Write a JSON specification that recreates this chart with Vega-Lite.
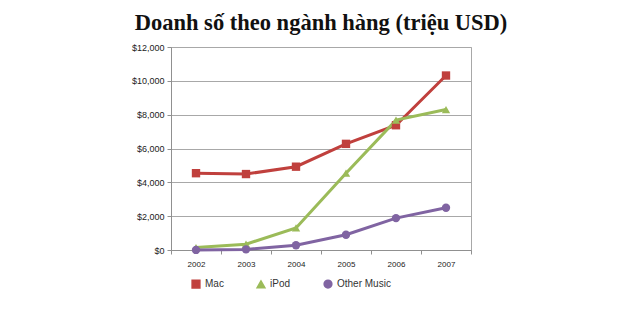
{
  "$schema": "https://vega.github.io/schema/vega-lite/v6.json",
  "autosize": "none",
  "width": 300,
  "height": 203,
  "padding": {"left": 171, "top": 47, "right": 169, "bottom": 70},
  "background": "white",
  "title": {
    "text": "Doanh số theo ngành hàng (triệu USD)",
    "font": "Liberation Serif",
    "fontSize": 22.5,
    "fontWeight": "bold",
    "color": "#111111",
    "anchor": "middle",
    "baseline": "alphabetic",
    "offset": 17,
    "dy": 26
  },
  "data": {
    "values": [
      {"year": "2002", "series": "Mac", "value": 4540},
      {"year": "2003", "series": "Mac", "value": 4490},
      {"year": "2004", "series": "Mac", "value": 4925},
      {"year": "2005", "series": "Mac", "value": 6275},
      {"year": "2006", "series": "Mac", "value": 7375},
      {"year": "2007", "series": "Mac", "value": 10314},
      {"year": "2002", "series": "iPod", "value": 143},
      {"year": "2003", "series": "iPod", "value": 345},
      {"year": "2004", "series": "iPod", "value": 1306},
      {"year": "2005", "series": "iPod", "value": 4540},
      {"year": "2006", "series": "iPod", "value": 7676},
      {"year": "2007", "series": "iPod", "value": 8305},
      {"year": "2002", "series": "Other Music", "value": 4},
      {"year": "2003", "series": "Other Music", "value": 36},
      {"year": "2004", "series": "Other Music", "value": 278},
      {"year": "2005", "series": "Other Music", "value": 899},
      {"year": "2006", "series": "Other Music", "value": 1885},
      {"year": "2007", "series": "Other Music", "value": 2496}
    ]
  },
  "config": {
    "view": {"stroke": "#a8a8a8", "strokeWidth": 1},
    "axis": {"labelFont": "Liberation Sans", "labelColor": "#222222", "domainColor": "#909090", "tickColor": "#909090"}
  },
  "encoding": {
    "x": {
      "field": "year", "type": "ordinal", "bandPosition": 0.5,
      "scale": {"type": "band", "paddingInner": 0, "paddingOuter": 0},
      "axis": {"title": null, "labelAngle": 0, "labelFontSize": 8, "tickBand": "extent", "tickSize": 4, "labelPadding": 6, "grid": false}
    },
    "y": {
      "field": "value", "type": "quantitative",
      "scale": {"domain": [0, 12000]},
      "axis": {"title": null, "format": "$,.0f", "values": [0,2000,4000,6000,8000,10000,12000], "labelOverlap": false, "labelFontSize": 9, "tickSize": 4, "gridColor": "#a8a8a8", "gridWidth": 1, "labelPadding": 3}
    },
    "color": {
      "field": "series", "type": "nominal",
      "scale": {"domain": ["Mac", "iPod", "Other Music"], "range": ["#c0403d", "#9bbb59", "#8064a2"]},
      "legend": {"title": null, "orient": "none", "direction": "horizontal", "legendX": 20, "legendY": 232, "labelFont": "Liberation Sans", "labelFontSize": 10, "labelColor": "#333333", "columnPadding": 30, "symbolSize": 60}
    }
  },
  "layer": [
    {"mark": {"type": "line", "strokeWidth": 3}},
    {
      "mark": {"type": "point", "filled": true, "size": 70, "opacity": 1, "strokeWidth": 1},
      "encoding": {
        "shape": {"field": "series", "type": "nominal", "scale": {"domain": ["Mac", "iPod", "Other Music"], "range": ["square", "triangle-up", "circle"]}, "legend": null}
      }
    }
  ]
}
